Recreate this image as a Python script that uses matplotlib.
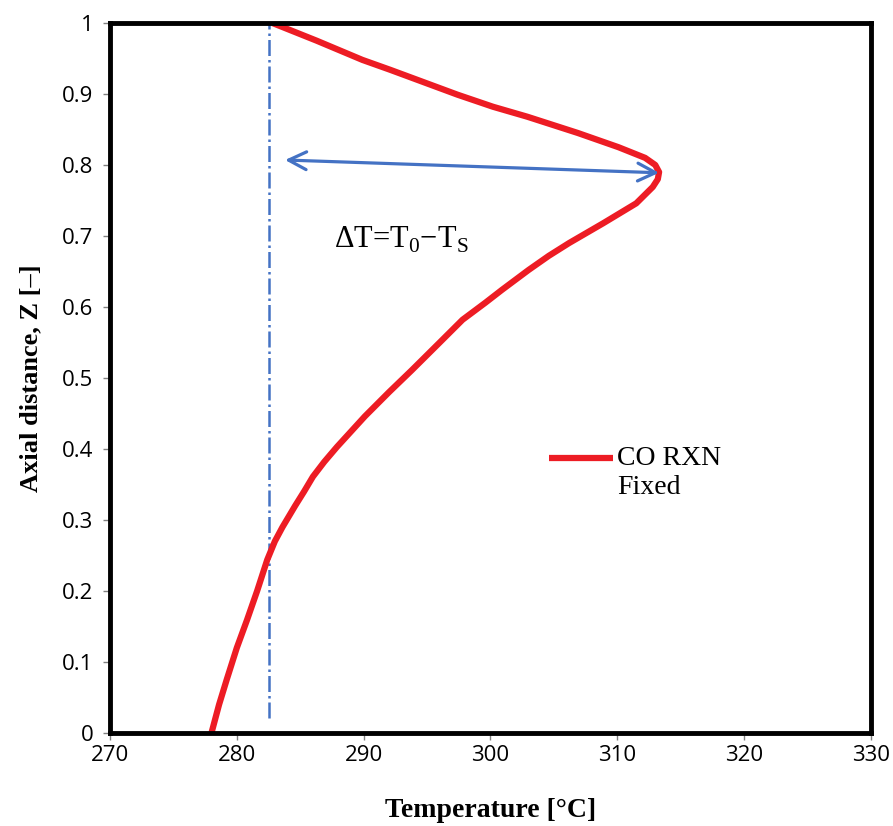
import numpy as np
import matplotlib.pyplot as plt

# temperature profile
z = [0.0, 0.04, 0.075, 0.12, 0.159, 0.20, 0.244, 0.27, 0.29, 0.32,
     0.34, 0.361, 0.382, 0.403, 0.446, 0.48, 0.511, 0.55, 0.582, 0.606,
     0.624, 0.652, 0.672, 0.69, 0.718, 0.746, 0.769, 0.78, 0.79, 0.80,
     0.81, 0.825, 0.845, 0.868, 0.882, 0.899, 0.934, 0.948, 0.975, 1.0]
temp = [278.0, 278.6, 279.2, 280.0, 280.8, 281.6, 282.4, 283.0, 283.6, 284.6,
        285.3, 286.0, 286.9, 287.9, 290.1, 292.0, 293.8, 296.0, 297.8, 299.6,
        300.9, 303.0, 304.6, 306.2, 308.9, 311.5, 312.8, 313.2, 313.3, 313.0,
        312.2, 310.1, 306.9, 302.9, 300.2, 297.4, 292.1, 289.9, 286.3, 282.8]

t_ref = 282.5          # dash-dot reference temperature
z_ref = [0.021, 1.0]
arrow_left = (283.8, 0.807)
arrow_right = (313.3, 0.789)

plt.rcParams['mathtext.fontset'] = 'custom'
plt.rcParams['mathtext.rm'] = 'Liberation Serif'

fig = plt.figure(figsize=(8.93, 8.26), dpi=100)
ax = fig.add_axes([0.1232, 0.1126, 0.852, 0.8596])

ax.plot([t_ref, t_ref], z_ref, color='#4472C4', lw=1.8, ls='-.')
ax.plot(temp, z, color='#ED1C24', lw=4.5, solid_capstyle='butt',
        solid_joinstyle='round', label='CO RXN\nFixed')

ax.annotate('', xy=arrow_left, xytext=arrow_right,
            arrowprops=dict(arrowstyle='<->', color='#4472C4', lw=2.3,
                            mutation_scale=32, shrinkA=0, shrinkB=0))
ax.text(287.7, 0.694, r'$\Delta$T=T$_0$$-$T$_\mathrm{S}$', fontsize=22,
        family='Liberation Serif', va='center', ha='left')

ax.set_xlim(270, 330)
ax.set_ylim(0, 1)
ax.set_xticks(np.arange(270, 331, 10))
ax.set_yticks(np.arange(0, 1.01, 0.1))
ax.set_yticklabels(['0', '0.1', '0.2', '0.3', '0.4', '0.5', '0.6', '0.7', '0.8', '0.9', '1'])

for s in ax.spines.values():
    s.set_linewidth(3.5)
    s.set_color('black')
ax.tick_params(direction='out', length=5, width=1, color='#808080',
               labelsize=16, pad=7)
ax.tick_params(axis='x', pad=4)
for lab in ax.get_xticklabels() + ax.get_yticklabels():
    lab.set_family('Open Sans')

ax.set_xlabel('Temperature [°C]', fontsize=20, fontweight='bold',
              family='Liberation Serif', labelpad=23)
ax.set_ylabel('Axial distance, Z [–]', fontsize=19, fontweight='bold',
              family='Liberation Serif', labelpad=14)

leg = ax.legend(loc='upper left', bbox_to_anchor=(0.577, 0.404), frameon=False,
                prop={'family': 'Liberation Serif', 'size': 20},
                handlelength=2.3, handletextpad=0.15, borderaxespad=0,
                borderpad=0)
# put the legend line next to the first text line
hl = leg.get_lines()[0]
hl.set_ydata(np.asarray(hl.get_ydata()) + 11)

fig.savefig('out.png', dpi=100)
